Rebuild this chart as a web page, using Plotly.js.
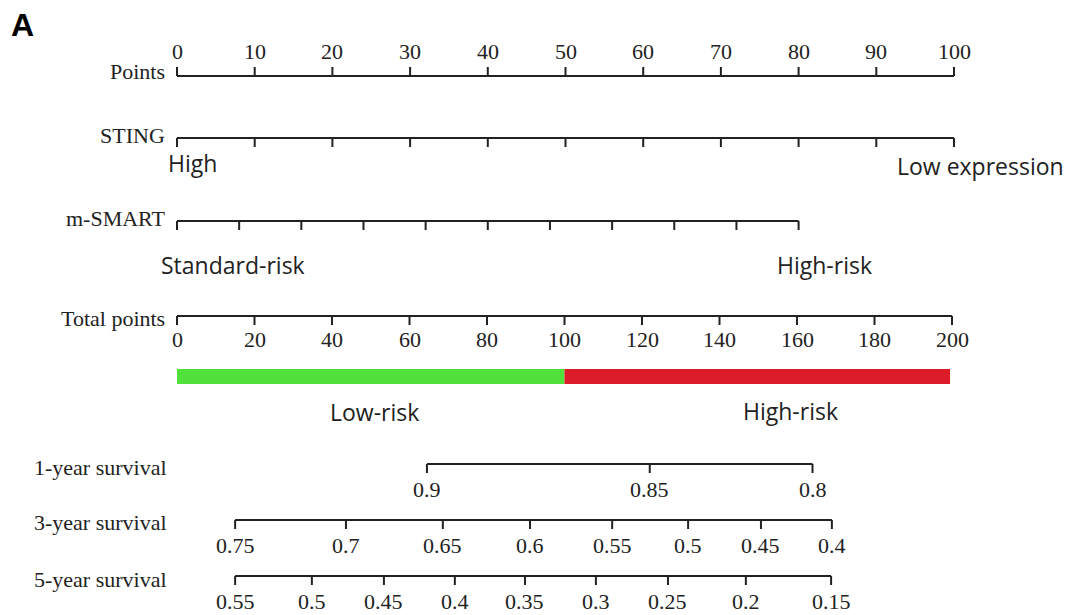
<!DOCTYPE html>
<html><head><meta charset="utf-8">
<script src="https://cdn.plot.ly/plotly-3.0.1.min.js"></script>
<style>html,body{margin:0;padding:0;background:#fff}#chart{width:1069px;height:615px}</style>
</head><body><div id="chart"></div>
<script>
// ---- data ----
const pointsTicks = [0,10,20,30,40,50,60,70,80,90,100];
const stingTicks = [0,10,20,30,40,50,60,70,80,90,100];
const stingLevels = ["High","Low expression"];
const stingLevelPts = [0,100];
const smartTicks = [0,8,16,24,32,40,48,56,64,72,80];
const smartLevels = ["Standard-risk","High-risk"];
const smartLevelPts = [0,80];
const totalTicks = [0,20,40,60,80,100,120,140,160,180,200];
const riskGroups = ["Low-risk","High-risk"];
const riskStart = [0,100];
const riskEnd = [100,199.5];
const riskColors = ["#52e03a","#dc1c28"];
const surv1Pos = [64.5,122,164];
const surv1Lab = ["0.9","0.85","0.8"];
const surv3Pos = [15,43.6,68.6,91.1,112.3,131.9,150.7,169];
const surv3Lab = ["0.75","0.7","0.65","0.6","0.55","0.5","0.45","0.4"];
const surv5Pos = [15,34.8,53.4,71.7,89.8,108.1,126.7,146.8,168.8];
const surv5Lab = ["0.55","0.5","0.45","0.4","0.35","0.3","0.25","0.2","0.15"];

// ---- layout helpers ----
const W=1069,H=615,X0=177;
const ptsScale=7.77, totScale=3.875;
const serif="Liberation Serif, Times New Roman, serif";
const sans="Open Sans, Noto Sans, sans-serif";
const ink="#222";
const traces=[], ann=[];

function axisLine(xa, xmin, xmax, y, ticks, dir){
  traces.push({type:'scatter',mode:'lines',xaxis:xa,yaxis:'y',x:[xmin,xmax],y:[y,y],
    line:{color:ink,width:2},hoverinfo:'skip',showlegend:false});
  const tx=[],ty=[];
  ticks.forEach(t=>{tx.push(t,t,null);ty.push(y,y+dir*9,null);});
  traces.push({type:'scatter',mode:'lines',xaxis:xa,yaxis:'y',x:tx,y:ty,
    line:{color:ink,width:2},hoverinfo:'skip',showlegend:false});
}
function tickLabels(xa, pos, labs, y){
  pos.forEach((p,i)=>ann.push({xref:xa,yref:'y',x:p,y:y,text:labs[i],showarrow:false,
    font:{family:serif,size:22,color:ink},xanchor:'center',yanchor:'middle'}));
}
function rowLabel(text,y,anchor,x){
  ann.push({xref:'paper',yref:'y',x:x,y:y,text:text,showarrow:false,
    font:{family:serif,size:22,color:ink},xanchor:anchor,yanchor:'middle'});
}
function catLabel(xa,x,y,text,shift){
  ann.push({xref:xa,yref:'y',x:x,y:y,xshift:shift,text:text,showarrow:false,
    font:{family:sans,size:23,color:ink},xanchor:'center',yanchor:'middle'});
}

// Points
axisLine('x',0,100,76,pointsTicks,-1);
tickLabels('x',pointsTicks,pointsTicks.map(String),51);
rowLabel('Points',71,'right',167/W);
// STING
axisLine('x',0,100,138,stingTicks,1);
rowLabel('STING',135,'right',167/W);
catLabel('x',stingLevelPts[0],163,stingLevels[0],15);
catLabel('x',stingLevelPts[1],166,stingLevels[1],26);
// m-SMART
axisLine('x',0,80,221,smartTicks,1);
rowLabel('m-SMART',218,'right',167/W);
catLabel('x',smartLevelPts[0],265,smartLevels[0],56);
catLabel('x',smartLevelPts[1],265,smartLevels[1],26);
// Total points
axisLine('x2',0,200,316,totalTicks,1);
tickLabels('x2',totalTicks,totalTicks.map(String),339);
rowLabel('Total points',318,'right',167/W);
// Risk bar
riskGroups.forEach((g,i)=>{
  traces.push({type:'scatter',mode:'lines',xaxis:'x2',yaxis:'y',x:[riskStart[i],riskEnd[i]],y:[376.5,376.5],
    line:{color:riskColors[i],width:15},hoverinfo:'skip',showlegend:false});
});
catLabel('x2',(riskStart[0]+riskEnd[0])/2,412,riskGroups[0],4);
catLabel('x2',(riskStart[1]+riskEnd[1])/2,411,riskGroups[1],33);
// Survival
axisLine('x2',surv1Pos[0],surv1Pos[surv1Pos.length-1],464,surv1Pos,1);
tickLabels('x2',surv1Pos,surv1Lab,489);
rowLabel('1-year survival',467,'left',32/W);
axisLine('x2',surv3Pos[0],surv3Pos[surv3Pos.length-1],520,surv3Pos,1);
tickLabels('x2',surv3Pos,surv3Lab,545);
rowLabel('3-year survival',522,'left',32/W);
axisLine('x2',surv5Pos[0],surv5Pos[surv5Pos.length-1],576,surv5Pos,1);
tickLabels('x2',surv5Pos,surv5Lab,601);
rowLabel('5-year survival',579,'left',32/W);

// Panel letter
ann.push({xref:'paper',yref:'paper',x:9/W,y:1-5/H,text:'<b>A</b>',showarrow:false,
  font:{family:'Liberation Sans, Arial, sans-serif',size:32,color:'#000'},xanchor:'left',yanchor:'top'});

const layout={
  width:W,height:H,margin:{l:0,r:0,t:0,b:0},paper_bgcolor:'#fff',plot_bgcolor:'#fff',
  showlegend:false,
  xaxis:{visible:false,range:[-X0/ptsScale,(W-X0)/ptsScale],domain:[0,1],fixedrange:true},
  xaxis2:{visible:false,range:[-X0/totScale,(W-X0)/totScale],domain:[0,1],overlaying:'x',fixedrange:true},
  yaxis:{visible:false,range:[H,0],domain:[0,1],fixedrange:true},
  annotations:ann
};
Plotly.newPlot('chart',traces,layout,{staticPlot:true,displayModeBar:false});
</script></body></html>
